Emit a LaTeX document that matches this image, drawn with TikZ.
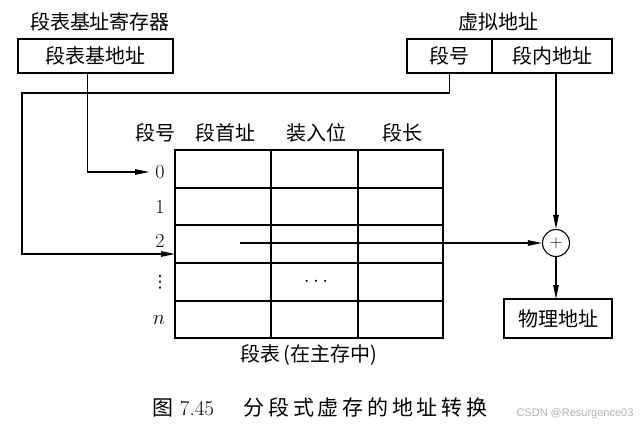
\documentclass[tikz,border=0pt]{standalone}
\usepackage{fontspec}
\newfontfamily\cjk{Noto Sans CJK SC}
\newfontfamily\cjkwide[LetterSpace=18]{Noto Sans CJK SC}
\newfontfamily\wmfont{Liberation Sans}
\newfontfamily\symfont{DejaVu Sans}
\usetikzlibrary{arrows.meta, positioning, calc}

\begin{document}
\begin{tikzpicture}[
  x=1pt, y=-1pt,
  reg/.style={draw, line width=1.1pt, font=\cjk\fontsize{20}{22}\selectfont, inner sep=0pt, outer sep=0pt, minimum height=34pt},
  lbl/.style={font=\cjk\fontsize{20}{22}\selectfont, inner sep=0pt},
  num/.style={font=\fontsize{20}{22}\selectfont, inner sep=0pt},
  line/.style={draw, line width=1.1pt},
  arr/.style={line, -{Triangle[length=14pt,width=5.5pt]}}
]
\useasboundingbox (0,0) rectangle (640,426);

% registers and address boxes
\node[lbl] (baselbl) at (100,22) {段表基址寄存器};
\node[reg, minimum width=155pt] (base) at (95.5,56) {段表基地址};
\node[lbl] (valbl) at (498,22) {虚拟地址};
\node[reg, minimum width=85pt] (segno) at (449.5,56) {段号};
\node[reg, minimum width=120pt, anchor=west] (offset) at (segno.east) {段内地址};
\node[reg, minimum width=108pt, minimum height=39pt] (phys) at (558,318.5) {物理地址};
\node[line, circle, minimum size=27pt, inner sep=0pt] (add) at (556,243) {\fontsize{17}{17}\selectfont$+$};

% segment table
\draw[line] (175,150) rectangle (443,338);
\foreach \y in {188,225,263,301}
  \draw[line] (175,\y) -- (443,\y);
\foreach \x in {271,358}
  \draw[line] (\x,150) -- (\x,338);
\coordinate (tblleft) at (175,254);
\coordinate (row2) at (240,243);

\node[lbl] (hno) at (155,133) {段号};
\node[lbl] (hstart) at (225,133) {段首址};
\node[lbl] (hload) at (316,133) {装入位};
\node[lbl] (hlen) at (402,133) {段长};

\node[num] (r0) at (160,172) {0};
\node[num] (r1) at (160,207) {1};
\node[num] (r2) at (160,241) {2};
\node[num, font=\symfont\fontsize{17}{17}\selectfont] (rdots) at (160,282) {⋮};
\node[num] (rn) at (159,320) {$n$};
\node[num] (cdots) at (316,282) {$\cdots$};
\node[lbl] (tblcap) at (309,355) {段表\,(在主存中)};

% caption
\node[inner sep=0pt, font=\fontsize{21}{23}\selectfont] (fig) at (320,407)
  {{\cjk 图}\ 7.45\hspace{1.4em}{\cjkwide 分段式虚存的地址转换}};
\node[inner sep=0pt, text=gray!60, font=\wmfont\fontsize{11}{12}\selectfont] (wm) at (575,414) {CSDN @Resurgence03};

% connectors
\draw[arr] ([xshift=-8pt]base.south) |- ([xshift=-6pt]r0.west);
\draw[arr] (segno.south) |- (22,93) |- (tblleft);
\draw[arr] (offset.south -| add.north) -- (add.north);
\draw[arr] (row2) -- (add.west);
\draw[arr] (add.south) -- (add.south |- phys.north);
\end{tikzpicture}
\end{document}
